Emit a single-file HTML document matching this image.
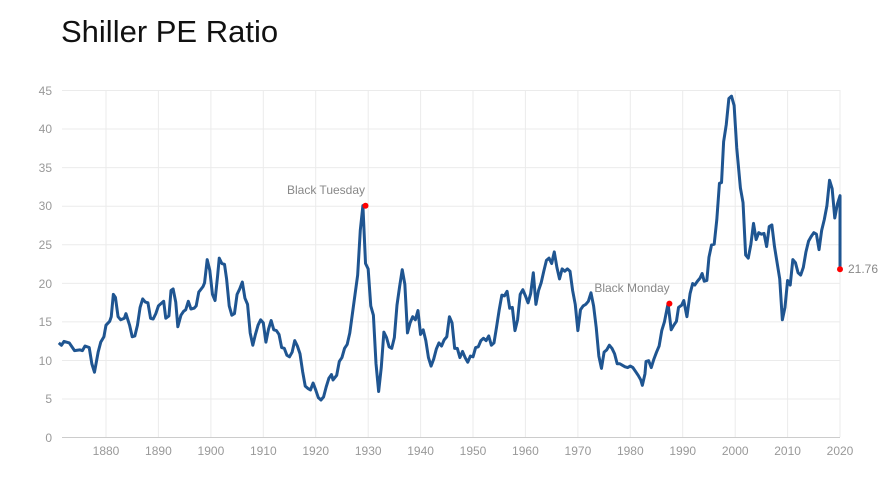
<!DOCTYPE html>
<html><head><meta charset="utf-8"><style>
body{margin:0;background:#fff;width:888px;height:481px;overflow:hidden;font-family:"Liberation Sans",sans-serif}
</style></head><body>
<svg width="888" height="481" xmlns="http://www.w3.org/2000/svg" style="position:absolute;left:0;top:0">
<text x="61" y="42" font-size="31" fill="#111" font-family="Liberation Sans,sans-serif">Shiller PE Ratio</text>
<g stroke="#ebebeb" stroke-width="1">
<line x1="62" x2="840" y1="90.5" y2="90.5"/><line x1="62" x2="840" y1="129" y2="129"/><line x1="62" x2="840" y1="167.6" y2="167.6"/><line x1="62" x2="840" y1="206.2" y2="206.2"/><line x1="62" x2="840" y1="244.8" y2="244.8"/><line x1="62" x2="840" y1="283.4" y2="283.4"/><line x1="62" x2="840" y1="321.9" y2="321.9"/><line x1="62" x2="840" y1="360.5" y2="360.5"/><line x1="62" x2="840" y1="399" y2="399"/>
<line x1="106" x2="106" y1="90" y2="437"/><line x1="158.4" x2="158.4" y1="90" y2="437"/><line x1="210.9" x2="210.9" y1="90" y2="437"/><line x1="263.3" x2="263.3" y1="90" y2="437"/><line x1="315.7" x2="315.7" y1="90" y2="437"/><line x1="368.2" x2="368.2" y1="90" y2="437"/><line x1="420.6" x2="420.6" y1="90" y2="437"/><line x1="473" x2="473" y1="90" y2="437"/><line x1="525.4" x2="525.4" y1="90" y2="437"/><line x1="577.9" x2="577.9" y1="90" y2="437"/><line x1="630.3" x2="630.3" y1="90" y2="437"/><line x1="682.7" x2="682.7" y1="90" y2="437"/><line x1="735.2" x2="735.2" y1="90" y2="437"/><line x1="787.6" x2="787.6" y1="90" y2="437"/><line x1="840" x2="840" y1="90" y2="437"/>
</g>
<line x1="62" x2="840" y1="437.5" y2="437.5" stroke="#ccc"/>
<g font-size="12" fill="#999" text-anchor="end">
<text x="52" y="95">45</text><text x="52" y="133">40</text><text x="52" y="172">35</text><text x="52" y="210">30</text><text x="52" y="249">25</text><text x="52" y="288">20</text><text x="52" y="326">15</text><text x="52" y="365">10</text><text x="52" y="403">5</text><text x="52" y="442">0</text>
</g>
<g font-size="12" fill="#999" text-anchor="middle">
<text x="106" y="455">1880</text><text x="158.4" y="455">1890</text><text x="210.9" y="455">1900</text><text x="263.3" y="455">1910</text><text x="315.7" y="455">1920</text><text x="368.2" y="455">1930</text><text x="420.6" y="455">1940</text><text x="473" y="455">1950</text><text x="525.4" y="455">1960</text><text x="577.9" y="455">1970</text><text x="630.3" y="455">1980</text><text x="682.7" y="455">1990</text><text x="735.2" y="455">2000</text><text x="787.6" y="455">2010</text><text x="840" y="455">2020</text>
</g>
<g transform="translate(106 437) scale(5.243 -7.711) translate(-1880 0)">
<polyline fill="none" stroke="#1f5591" stroke-width="3" vector-effect="non-scaling-stroke" stroke-linejoin="round" points="1871,12.2 1871.5,11.9 1872,12.4 1873,12.2 1874,11.2 1875,11.3 1875.5,11.2 1876,11.8 1876.8,11.6 1877.3,9.5 1877.8,8.4 1878.5,11 1879,12.3 1879.6,13 1880,14.5 1880.7,15 1881,15.6 1881.4,18.5 1881.8,18.1 1882.3,15.6 1882.8,15.2 1883.5,15.4 1883.8,16 1884.5,14.5 1885,13 1885.5,13.1 1886,14.5 1886.5,16.8 1887,17.9 1887.5,17.5 1888,17.4 1888.5,15.4 1889,15.3 1889.5,16 1890,17 1891,17.6 1891.4,15.4 1892,15.7 1892.4,19 1892.8,19.2 1893.3,17.5 1893.7,14.3 1894.3,15.8 1894.8,16.3 1895.2,16.5 1895.7,17.6 1896.2,16.6 1896.8,16.7 1897.2,17 1897.7,18.8 1898.5,19.5 1898.8,20 1899.3,23 1899.8,21.6 1900.3,18.5 1900.8,17.7 1901.3,21 1901.6,23.2 1902.1,22.5 1902.6,22.4 1903,20.5 1903.5,17 1904,15.8 1904.5,16 1905,18.5 1905.5,19.2 1906,20.1 1906.5,18 1907,17.2 1907.5,13.5 1908,11.9 1908.5,13.3 1909,14.5 1909.5,15.2 1910,14.8 1910.5,12.3 1911,14 1911.5,15.1 1912,13.9 1912.5,13.8 1913,13.3 1913.5,11.6 1914,11.5 1914.5,10.6 1915,10.4 1915.5,11 1916,12.5 1916.5,11.8 1917,10.8 1917.5,8.5 1918,6.6 1918.5,6.3 1919,6.1 1919.5,7 1920,6.1 1920.5,5.1 1921,4.8 1921.5,5.2 1922,6.5 1922.5,7.6 1923,8.1 1923.3,7.4 1924,8 1924.5,9.8 1925,10.3 1925.5,11.5 1926,12 1926.5,13.5 1927,16 1927.5,18.5 1928,21 1928.5,26.8 1929,30 1929.5,22.5 1930,21.8 1930.5,17 1931,15.8 1931.5,9.5 1932,5.9 1932.5,9 1933,13.6 1933.5,12.9 1934,11.7 1934.5,11.5 1935,12.9 1935.5,17.1 1936,19.5 1936.5,21.7 1937,19.8 1937.5,13.5 1938,14.8 1938.5,15.6 1939,15.2 1939.5,16.4 1940,13.3 1940.5,13.9 1941,12.5 1941.5,10.3 1942,9.2 1942.5,10.1 1943,11.4 1943.5,12.2 1944,11.8 1944.5,12.6 1945,13 1945.5,15.6 1946,14.8 1946.5,11.5 1947,11.5 1947.5,10.3 1948,11.1 1948.5,10.3 1949,9.7 1949.5,10.5 1950,10.4 1950.5,11.6 1951,11.7 1951.5,12.5 1952,12.8 1952.5,12.5 1953,13.1 1953.5,11.9 1954,12.2 1954.5,14.3 1955,16.5 1955.5,18.4 1956,18.3 1956.5,18.9 1957,16.7 1957.5,16.8 1958,13.8 1958.5,15.2 1959,18.5 1959.5,19.1 1960,18.3 1960.5,17.4 1961,18.6 1961.5,21.3 1962,17.2 1962.5,19 1963,20 1963.5,21.5 1964,22.9 1964.5,23.2 1965,22.5 1965.5,24 1966,22 1966.5,20.5 1967,21.8 1967.5,21.5 1968,21.8 1968.5,21.5 1969,19 1969.5,17.2 1970,13.8 1970.5,16.5 1971,17 1971.5,17.2 1972,17.6 1972.5,18.7 1973,17 1973.5,14.2 1974,10.5 1974.5,8.9 1975,11 1975.5,11.3 1976,11.9 1976.5,11.5 1977,10.8 1977.5,9.5 1978,9.5 1978.5,9.3 1979,9.1 1979.5,9 1980,9.2 1980.5,9 1981,8.5 1981.5,8 1982,7.4 1982.3,6.7 1982.8,8.2 1983,9.8 1983.5,9.9 1984,9 1984.5,10.1 1985,11 1985.5,11.8 1986,13.8 1986.5,14.9 1987.2,17.3 1987.8,13.9 1988.3,14.5 1988.8,15 1989.2,16.8 1989.8,17.1 1990.2,17.7 1990.8,15.6 1991.4,18.6 1991.9,19.9 1992.3,19.7 1992.8,20.2 1993.3,20.6 1993.7,21.2 1994.1,20.2 1994.6,20.3 1995,23.3 1995.5,24.9 1996,25 1996.5,28.2 1997,32.9 1997.4,33 1997.8,38.3 1998.3,40.5 1998.8,43.9 1999.3,44.2 1999.8,43 2000.3,37.5 2001,32.3 2001.5,30.4 2002,23.6 2002.5,23.2 2003,25 2003.5,27.7 2004,25.6 2004.5,26.5 2005,26.3 2005.5,26.4 2006,24.7 2006.5,27.3 2007,27.5 2007.5,24.7 2008.5,20.5 2009,15.2 2009.5,16.8 2010,20.3 2010.5,19.7 2011,23 2011.5,22.6 2012,21.3 2012.5,21 2013,22 2013.5,24 2014,25.4 2014.5,26 2015,26.5 2015.5,26.3 2016,24.3 2016.5,26.8 2017,28.2 2017.5,30 2018,33.3 2018.5,32.2 2019,28.4 2019.5,30.2 2020,31.3 2020,21.76"/>
</g>
<circle cx="365.5" cy="205.7" r="3" fill="#f00"/>
<circle cx="669.4" cy="303.6" r="3" fill="#f00"/>
<circle cx="840" cy="269.2" r="3" fill="#f00"/>
<g font-size="12" fill="#888">
<text x="326" y="194" text-anchor="middle">Black Tuesday</text>
<text x="632" y="292" text-anchor="middle">Black Monday</text>
<text x="848" y="273">21.76</text>
</g>
</svg>
</body></html>
